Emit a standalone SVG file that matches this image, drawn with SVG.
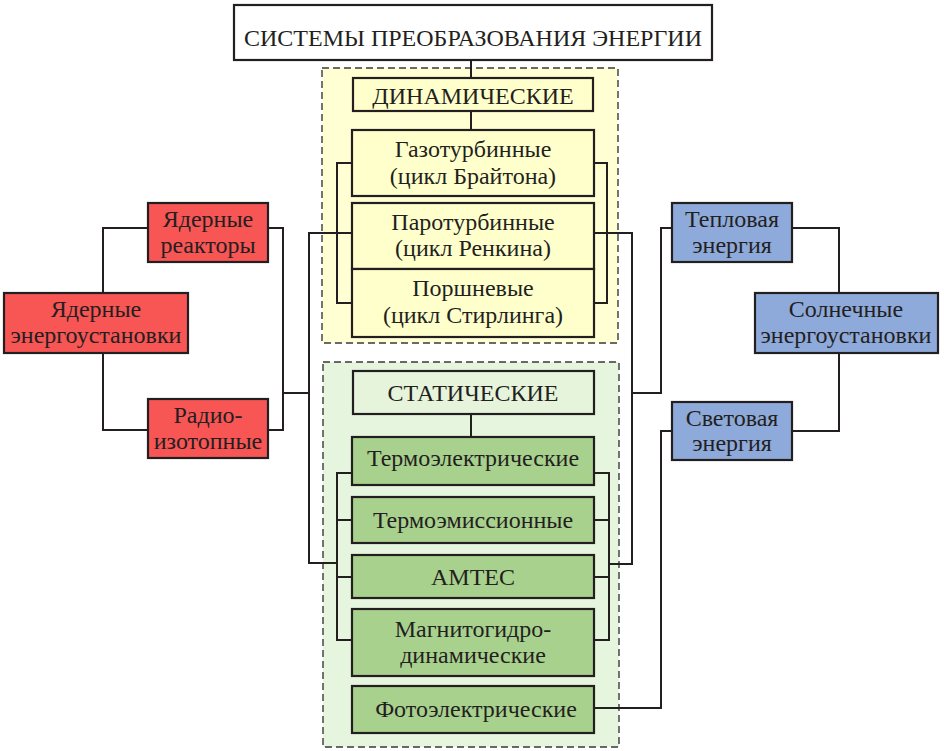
<svg xmlns="http://www.w3.org/2000/svg" width="944" height="751" viewBox="0 0 944 751">
<style>
.bx{stroke:#231F20;stroke-width:2.2}
.w{fill:#FFFFFF}
.y{fill:#FFFFCC}
.lg{fill:#E6F4DC}
.g{fill:#A9D18E}
.r{fill:#F85555}
.b{fill:#8EAADB}
.dash{stroke:#3a3a3a;stroke-width:1.4;stroke-dasharray:7 4}
.c{fill:none;stroke:#231F20;stroke-width:2}
text{font-family:"Liberation Serif","Times New Roman",serif;font-size:24px;fill:#231F20;text-anchor:middle}
.t{font-size:24px}
</style>
<rect x="322" y="68" width="296" height="275" fill="#FFFFD3" class="dash"/>
<rect x="323" y="362" width="296" height="385" fill="#E6F5DE" class="dash"/>
<g id="connectors">
<path class="c" d="M471 60V78M471 111V130"/>
<path class="c" d="M352 163H337V303H352M337 233H352"/>
<path class="c" d="M594 163H607V303H594M594 233H632V564H609"/>
<path class="c" d="M352 233H309V563H337"/>
<path class="c" d="M471 414V437"/>
<path class="c" d="M352 473H337V640H352M337 520H352M337 577H352"/>
<path class="c" d="M594 473H609V640H594M609 520H594M609 577H594"/>
<path class="c" d="M268 228H283V430H268M283 393H309"/>
<path class="c" d="M148 228H103V293M103 353V430H148"/>
<path class="c" d="M632 393H661V228H672"/>
<path class="c" d="M792 228H839V293M839 353V431H792"/>
<path class="c" d="M594 708H661V431H672"/>
</g>
<g id="title"><rect class="bx w" x="234" y="5" width="478" height="55"/><text class="t" x="473" y="46">СИСТЕМЫ ПРЕОБРАЗОВАНИЯ ЭНЕРГИИ</text></g>
<g id="dyn"><rect class="bx y" x="353" y="78" width="240" height="33"/><text x="473" y="104">ДИНАМИЧЕСКИЕ</text></g>
<g id="gas"><rect class="bx y" x="352" y="130" width="242" height="66"/><text x="473" y="157">Газотурбинные</text><text x="473" y="184">(цикл Брайтона)</text></g>
<g id="paro"><rect class="bx y" x="352" y="203" width="242" height="66"/><text x="473" y="230">Паротурбинные</text><text x="473" y="256">(цикл Ренкина)</text></g>
<g id="porsh"><rect class="bx y" x="352" y="269" width="242" height="68"/><text x="473" y="296">Поршневые</text><text x="473" y="323">(цикл Стирлинга)</text></g>
<g id="stat"><rect class="bx lg" x="353" y="371" width="241" height="43"/><text x="473" y="401">СТАТИЧЕСКИЕ</text></g>
<g id="termoel"><rect class="bx g" x="352" y="437" width="242" height="48"/><text x="473" y="466">Термоэлектрические</text></g>
<g id="termoem"><rect class="bx g" x="352" y="497" width="242" height="46"/><text x="473" y="528">Термоэмиссионные</text></g>
<g id="amtec"><rect class="bx g" x="352" y="555" width="242" height="43"/><text x="473" y="585">AMTEC</text></g>
<g id="mgd"><rect class="bx g" x="352" y="609" width="242" height="67"/><text x="473" y="637">Магнитогидро-</text><text x="473" y="663">динамические</text></g>
<g id="foto"><rect class="bx g" x="352" y="686" width="242" height="47"/><text x="476" y="717">Фотоэлектрические</text></g>
<g id="yaderr"><rect class="bx r" x="148" y="203" width="120" height="59"/><text x="208" y="227">Ядерные</text><text x="208" y="253">реакторы</text></g>
<g id="radio"><rect class="bx r" x="148" y="399" width="120" height="59"/><text x="208" y="423">Радио-</text><text x="208" y="449">изотопные</text></g>
<g id="yadeu"><rect class="bx r" x="4" y="293" width="184" height="60"/><text x="96" y="317">Ядерные</text><text x="96" y="343">энергоустановки</text></g>
<g id="teplo"><rect class="bx b" x="672" y="203" width="120" height="59"/><text x="732" y="227">Тепловая</text><text x="732" y="253">энергия</text></g>
<g id="svet"><rect class="bx b" x="672" y="402" width="120" height="58"/><text x="732" y="426">Световая</text><text x="732" y="451">энергия</text></g>
<g id="solar"><rect class="bx b" x="755" y="293" width="183" height="60"/><text x="846" y="317">Солнечные</text><text x="846" y="343">энергоустановки</text></g>
</svg>
